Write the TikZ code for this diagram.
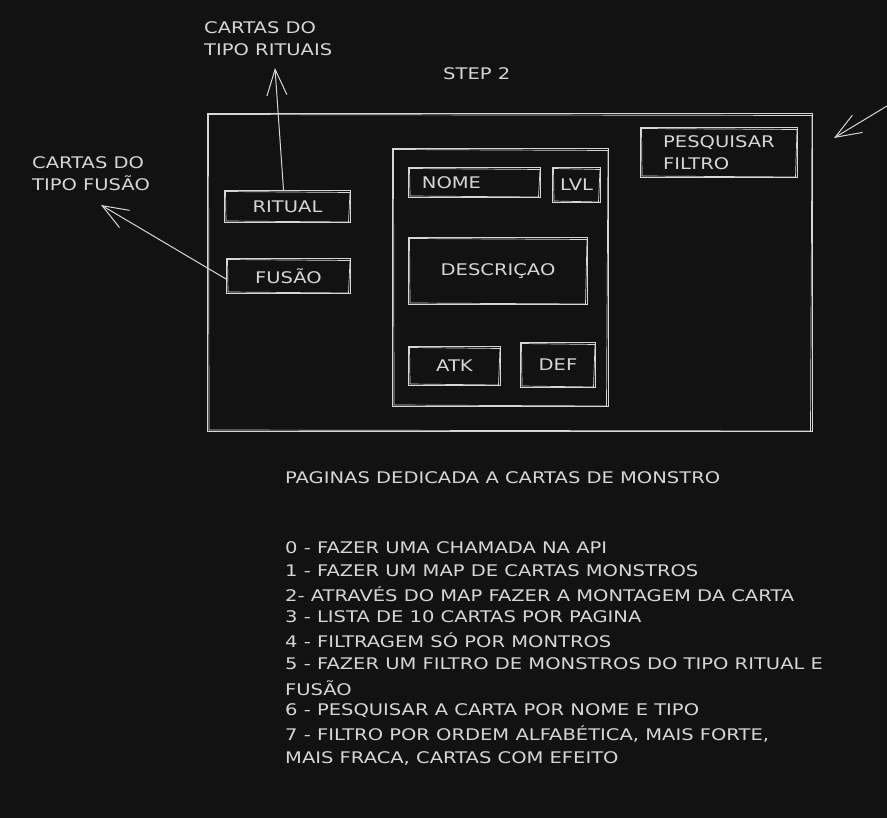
\documentclass[tikz,border=0pt]{standalone}
\usepackage{fontspec}
\setmainfont[FakeStretch=1.22]{DejaVu Sans}
\usetikzlibrary{arrows.meta}
\definecolor{bgc}{HTML}{121212}
\definecolor{ink}{HTML}{D6D6D6}
\tikzset{
  lbl/.style={text=ink, font=\fontsize{16}{22}\selectfont, inner sep=0pt},
  box/.style={draw=ink, line width=1pt, text=ink, font=\fontsize{16}{22}\selectfont, inner sep=0pt, anchor=north west},
  conn/.style={draw=ink, line width=1pt, -{Straight Barb[length=26pt,width=20pt]}},
}
\newcommand{\sk}[1]{\draw[ink, line width=0.7pt] ([shift={(1.5,1.5)}]#1.north west) -- ([shift={(-1,2.5)}]#1.north east) -- ([shift={(-2.5,-1)}]#1.south east) -- ([shift={(2,-2)}]#1.south west) -- cycle;}
\begin{document}
\begin{tikzpicture}[x=1pt,y=-1pt]
\fill[bgc] (0,0) rectangle (887,818);
\useasboundingbox (0,0) rectangle (887,818);
% outer frame
\node[box, minimum width=605, minimum height=318] (frame) at (207,113) {};
\sk{frame}
% card
\node[box, minimum width=216, minimum height=258] (card) at (392,148) {};
\sk{card}
\node[box, minimum width=132, minimum height=30] (nome) at (408,167) {\hspace*{-46pt}NOME};
\sk{nome}
\node[box, minimum width=48, minimum height=35] (lvl) at (552,167) {LVL};
\sk{lvl}
\node[box, minimum width=179, minimum height=67] (desc) at (408,237) {DESCRIÇAO};
\sk{desc}
\node[box, minimum width=92, minimum height=39] (atk) at (408,346) {ATK};
\sk{atk}
\node[box, minimum width=75, minimum height=45] (def) at (520,342) {DEF};
\sk{def}
% search box
\node[box, minimum width=157, minimum height=50, align=left] (pesq) at (640,127) {PESQUISAR\\FILTRO};
\sk{pesq}
% ritual / fusao
\node[box, minimum width=126, minimum height=32] (ritual) at (224,190) {RITUAL};
\sk{ritual}
\node[box, minimum width=124, minimum height=35] (fusao) at (226,258) {FUSÃO};
\sk{fusao}
% labels
\node[lbl, anchor=west, align=left] (trit) at (204,39) {CARTAS DO\\TIPO RITUAIS};
\node[lbl, anchor=west, align=left] (tfus) at (32,174) {CARTAS DO\\TIPO FUSÃO};
\node[lbl, anchor=west] (step) at (443,74) {STEP 2};
\coordinate (ritTip) at (275,68);
\coordinate (fusTip) at (101,205);
\coordinate (freeStart) at (887,106);
\coordinate (freeTip) at (834,138);
\draw[conn] ([xshift=-4pt]ritual.north) -- (ritTip);
\draw[conn] ([yshift=-3pt]fusao.west) -- (fusTip);
\draw[conn] (freeStart) -- (freeTip);
% bottom text
\node[lbl, anchor=west] (title) at (285,478) {PAGINAS DEDICADA A CARTAS DE MONSTRO};
\node[lbl, anchor=west] (l0) at (285,548) {0 - FAZER UMA CHAMADA NA API};
\node[lbl, anchor=west] (l1) at (285,571) {1 - FAZER UM MAP DE CARTAS MONSTROS};
\node[lbl, anchor=west] (l2) at (285,594) {2- ATRAVÉS DO MAP FAZER A MONTAGEM DA CARTA};
\node[lbl, anchor=west] (l3) at (285,617) {3 - LISTA DE 10 CARTAS POR PAGINA};
\node[lbl, anchor=west] (l4) at (285,640) {4 - FILTRAGEM SÓ POR MONTROS};
\node[lbl, anchor=west] (l5) at (285,664) {5 - FAZER UM FILTRO DE MONSTROS DO TIPO RITUAL E};
\node[lbl, anchor=west] (l5b) at (285,688) {FUSÃO};
\node[lbl, anchor=west] (l6) at (285,711) {6 - PESQUISAR A CARTA POR NOME E TIPO};
\node[lbl, anchor=west] (l7) at (285,734) {7 - FILTRO POR ORDEM ALFABÉTICA, MAIS FORTE,};
\node[lbl, anchor=west] (l7b) at (285,758) {MAIS FRACA, CARTAS COM EFEITO};
\end{tikzpicture}
\end{document}
